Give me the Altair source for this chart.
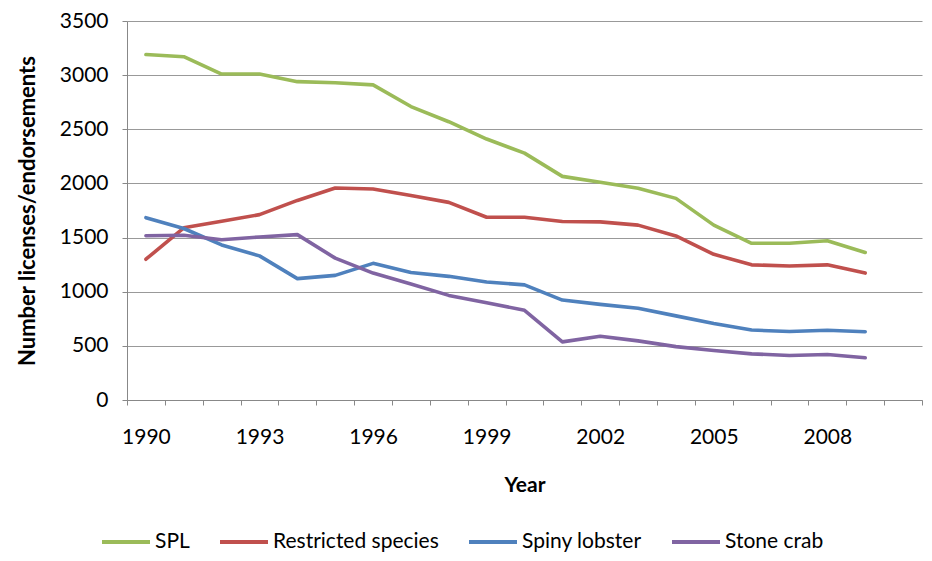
import altair as alt
import pandas as pd

years = list(range(1990, 2010))
all_years = list(range(1990, 2011))
series_names = ["SPL", "Restricted species", "Spiny lobster", "Stone crab"]
colors = ["#9BBB59", "#C0504D", "#4F81BD", "#8064A2"]

spl = [3190, 3170, 3010, 3010, 2940, 2930, 2910, 2710, 2570, 2410,
       2280, 2065, 2010, 1955, 1862, 1615, 1447, 1447, 1470, 1362]
restricted = [1300, 1590, 1650, 1712, 1843, 1958, 1948, 1889, 1825, 1688,
              1688, 1648, 1645, 1615, 1515, 1345, 1248, 1238, 1248, 1172]
spiny = [1684, 1584, 1432, 1331, 1121, 1151, 1262, 1177, 1142, 1090,
         1063, 923, 883, 847, 777, 707, 646, 633, 644, 630]
stone = [1517, 1522, 1480, 1506, 1527, 1310, 1172, 1072, 966, 898,
         828, 537, 588, 546, 493, 457, 426, 411, 420, 390]

rows = []
for name, vals in zip(series_names, [spl, restricted, spiny, stone]):
    for y, v in zip(years, vals):
        rows.append({"Year": y, "Series": name, "Value": v})
df = pd.DataFrame(rows)

FONT = "Lato"
FS = 21

chart = alt.Chart(df).mark_line(strokeWidth=3.6, strokeCap="round", strokeJoin="round").encode(
    x=alt.X("Year:O",
            scale=alt.Scale(domain=all_years, paddingInner=0, paddingOuter=0),
            axis=alt.Axis(title="Year", labelAngle=0, tickBand="extent",
                          labelExpr="(datum.value - 1990) % 3 == 0 ? datum.value : ''",
                          domainColor="#888888", tickColor="#888888", tickSize=5,
                          labelPadding=21, titlePadding=27, labelFontSize=FS,
                          titleFontSize=FS, labelColor="#000000", titleColor="#000000",
                          labelFont=FONT, titleFont=FONT, grid=False)),
    y=alt.Y("Value:Q",
            scale=alt.Scale(domain=[0, 3500], nice=False),
            axis=alt.Axis(title="Number licenses/endorsements", values=list(range(0, 3501, 500)),
                          format="d",
                          domainColor="#888888", tickColor="#888888", tickSize=5,
                          gridColor="#999999", gridWidth=1.2, labelPadding=14,
                          titlePadding=20, labelFontSize=FS, titleFontSize=22,
                          labelColor="#000000", titleColor="#000000",
                          labelFont=FONT, titleFont=FONT)),
    color=alt.Color("Series:N",
                    scale=alt.Scale(domain=series_names, range=colors),
                    legend=alt.Legend(title=None, orient="none", direction="horizontal",
                                      legendX=-27, legendY=495, symbolType="stroke",
                                      symbolStrokeWidth=4, symbolSize=2304,
                                      labelFontSize=FS, labelFont=FONT, labelColor="#000000",
                                      labelLimit=400, columnPadding=22, labelOffset=3)),
).properties(
    width=795, height=379,
    autosize=alt.AutoSizeParams(type="none"),
    padding={"left": 119, "top": 13, "right": 2, "bottom": 153},
).configure_view(stroke=None).configure_axis(titleFontWeight="bold")

chart.save("out.html", embed_options={"renderer": "svg", "actions": False})
